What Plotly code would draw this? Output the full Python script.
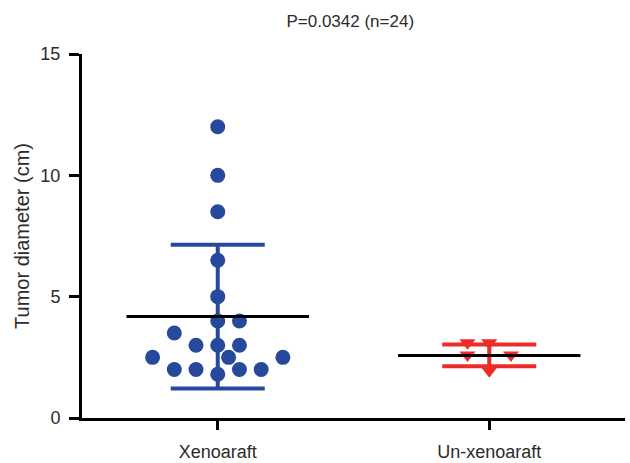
import plotly.graph_objects as go

# ---- data ----
categories = ["Xenoaraft", "Un-xenoaraft"]

xeno_values = [12.0, 10.0, 8.5, 6.5, 5.0, 4.0, 4.0, 3.5, 3.0, 3.0, 3.0,
               2.5, 2.5, 2.5, 2.0, 2.0, 1.8, 2.0, 2.0]
xeno_jitter = [0, 0, 0, 0, 0, 0, 1, -2, -1, 0, 1, -3, 0.5, 3, -2, -1, 0, 1, 2]

unx_values = [3.1, 2.6, 3.1, 1.95, 2.6]
unx_jitter = [-1, -1, 0, 0, 1]

group_means = [4.18, 2.58]
group_sds = [2.96, 0.45]

title_text = "P=0.0342 (n=24)"
y_title = "Tumor diameter (cm)"
y_ticks = [0, 5, 10, 15]

# ---- styling ----
BLUE = "#27499B"
RED = "#EE2C27"
JIT = 0.08
MEAN_HALF = 0.336
FONT = "Liberation Sans, Arial, sans-serif"
TXT = "#2b2b2b"

fig = go.Figure()

# points
fig.add_trace(go.Scatter(
    x=[0 + j * JIT for j in xeno_jitter], y=xeno_values, mode="markers",
    marker=dict(symbol="circle", size=15, color=BLUE, line=dict(width=0)),
    showlegend=False, hoverinfo="y"))
fig.add_trace(go.Scatter(
    x=[1 + j * JIT for j in unx_jitter], y=unx_values, mode="markers",
    marker=dict(symbol="triangle-down", size=14, color=RED, line=dict(width=0)),
    showlegend=False, hoverinfo="y"))

# SD error bars
for i, col in enumerate([BLUE, RED]):
    fig.add_trace(go.Scatter(
        x=[i], y=[group_means[i]], mode="markers",
        marker=dict(size=1, color="rgba(0,0,0,0)"),
        error_y=dict(type="data", array=[group_sds[i]], symmetric=True,
                     color=col, thickness=4, width=47),
        showlegend=False, hoverinfo="skip"))

# mean lines
for i in range(2):
    fig.add_trace(go.Scatter(
        x=[i - MEAN_HALF, i + MEAN_HALF], y=[group_means[i], group_means[i]],
        mode="lines", line=dict(color="black", width=3),
        showlegend=False, hoverinfo="skip"))

fig.update_layout(
    width=630, height=463,
    margin=dict(l=82, r=5, t=54, b=45),
    paper_bgcolor="white", plot_bgcolor="white",
    font=dict(family=FONT, size=18, color=TXT),
    title=dict(text=title_text, x=0.556, xanchor="center", y=0.955, yanchor="middle",
               font=dict(family=FONT, size=17, color=TXT)),
    xaxis=dict(range=[-0.5, 1.5], tickmode="array", tickvals=[0, 1],
               ticktext=categories, showgrid=False, zeroline=False,
               showline=True, linecolor="black", linewidth=3,
               ticks="outside", ticklen=9, tickwidth=3, tickcolor="black",
               ticklabelstandoff=6, automargin=False,
               tickfont=dict(size=18), fixedrange=True),
    yaxis=dict(range=[0, 15], tickmode="array", tickvals=y_ticks,
               showgrid=False, zeroline=False,
               showline=True, linecolor="black", linewidth=3,
               ticks="outside", ticklen=10, tickwidth=3, tickcolor="black",
               ticklabelstandoff=5, automargin=False,
               tickfont=dict(size=18),
               title=dict(text=y_title, font=dict(size=20), standoff=6),
               fixedrange=True),
)

fig.write_html("out.html")
